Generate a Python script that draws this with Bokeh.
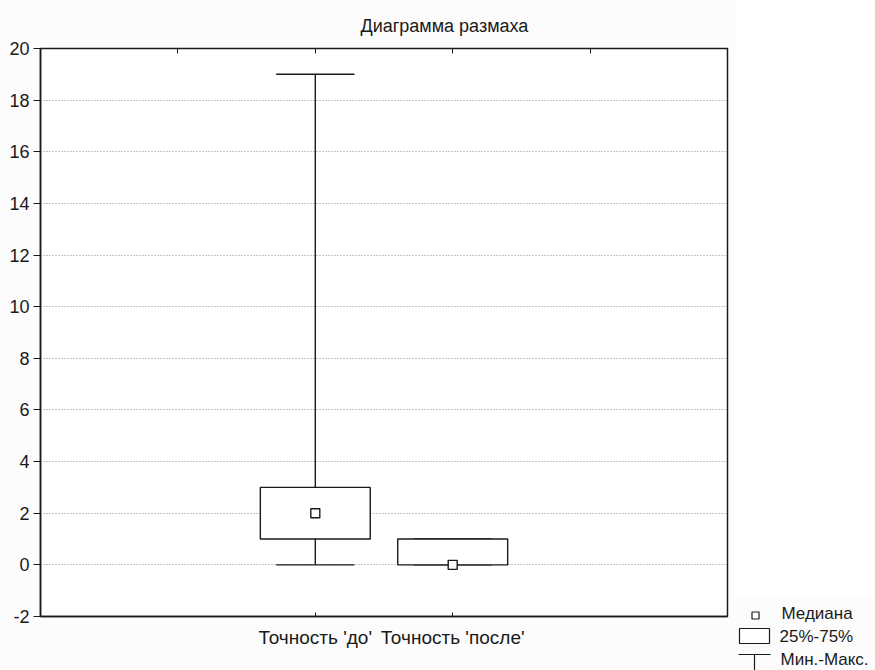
from bokeh.plotting import figure
from bokeh.models import Range1d, LinearAxis, FixedTicker, Spacer, ColumnDataSource
from bokeh.layouts import row, column
from bokeh.core.properties import value
from bokeh.embed import file_html
from bokeh.resources import INLINE

# ---- data ----
title_text = "Диаграмма размаха"
categories = ["Точность 'до'", "Точность 'после'"]
mins = [0, 0]
q1 = [1, 0]
medians = [2, 0]
q3 = [3, 1]
maxs = [19, 1]
y_ticks = [-2, 0, 2, 4, 6, 8, 10, 12, 14, 16, 18, 20]
y_tick_labels = ["-2", "0", "2", "4", "6", "8", "10", "12", "14", "16", "18", "20"]
legend_labels = ["Медиана", "25%-75%", "Мин.-Макс."]

FONT = "Liberation Sans"
BG = "#fcfcfc"
INK = "#1a1a1a"

x_pos = [i + 2 for i in range(len(categories))]
cap_half = 0.285
src = ColumnDataSource(dict(
    x=x_pos, cat=categories, lo=mins, q1=q1, med=medians, q3=q3, hi=maxs,
    cx0=[x - cap_half for x in x_pos], cx1=[x + cap_half for x in x_pos],
))

p = figure(width=735, height=670, x_range=Range1d(0, 5), y_range=Range1d(-2, 20),
           output_backend="svg", toolbar_location=None,
           min_border_left=40, min_border_right=8, min_border_top=46, min_border_bottom=54)
p.background_fill_color = "white"
p.border_fill_color = BG
p.outline_line_color = INK
p.outline_line_width = 1.5

p.title.text = title_text
p.title.text_font = FONT
p.title.text_font_size = "18px"
p.title.text_font_style = "normal"
p.title.text_color = INK
p.title.align = "left"
p.title.offset = 320
p.title.standoff = 26

# axes
xa = p.xaxis[0]
xa.ticker = FixedTicker(ticks=x_pos)
xa.major_label_overrides = {x: c for x, c in zip(x_pos, categories)}
xa.major_tick_in = 4
xa.major_tick_out = 0
xa.minor_tick_line_color = None
xa.axis_line_color = INK
xa.axis_line_width = 1.5
xa.major_tick_line_color = INK
xa.major_label_text_font = FONT
xa.major_label_text_font_size = "19px"
xa.major_label_text_color = INK
xa.major_label_standoff = 10

ya = p.yaxis[0]
ya.ticker = FixedTicker(ticks=y_ticks)
ya.major_label_overrides = {t: s for t, s in zip(y_ticks, y_tick_labels)}
ya.major_tick_in = 0
ya.major_tick_out = 7
ya.minor_tick_line_color = None
ya.axis_line_color = INK
ya.axis_line_width = 1.5
ya.major_tick_line_color = INK
ya.major_label_text_font = FONT
ya.major_label_text_font_size = "18px"
ya.major_label_text_color = INK
ya.major_label_standoff = 4

top_ticks = [1, 2, 3, 4]
top = LinearAxis(ticker=FixedTicker(ticks=top_ticks))
top.major_label_overrides = {t: "" for t in top_ticks}
top.major_tick_in = 5
top.major_tick_out = 0
top.minor_tick_line_color = None
top.major_label_standoff = 0
top.axis_line_color = INK
top.major_tick_line_color = INK
p.add_layout(top, "above")

p.xgrid.visible = False
p.ygrid.ticker = FixedTicker(ticks=y_ticks)
p.ygrid.grid_line_color = "#8a8a8a"
p.ygrid.grid_line_dash = "1 2"
p.ygrid.grid_line_width = 1

# whiskers
p.segment(x0="x", y0="q3", x1="x", y1="hi", source=src, line_color=INK, line_width=1.4)
p.segment(x0="x", y0="lo", x1="x", y1="q1", source=src, line_color=INK, line_width=1.4)
p.segment(x0="cx0", y0="hi", x1="cx1", y1="hi", source=src, line_color=INK, line_width=1.4)
p.segment(x0="cx0", y0="lo", x1="cx1", y1="lo", source=src, line_color=INK, line_width=1.4)
# boxes
p.vbar(x="x", bottom="q1", top="q3", width=0.8, source=src,
       fill_color="white", line_color=INK, line_width=1.4)
# medians
p.scatter(x="x", y="med", source=src, marker="square", size=9,
          fill_color="white", line_color=INK, line_width=1.4)

# ---- legend (separate small figure, coords in pixels, 0 at top) ----
leg = figure(width=140, height=72, x_range=Range1d(0, 140), y_range=Range1d(72, 0),
             output_backend="svg", toolbar_location=None,
             min_border=0, min_border_left=0, min_border_right=0,
             min_border_top=0, min_border_bottom=0)
leg.axis.visible = False
leg.grid.visible = False
leg.outline_line_color = None
leg.background_fill_color = BG
leg.border_fill_color = BG

leg.scatter(x=[20], y=[17], marker="square", size=7, fill_color="white",
            line_color=INK, line_width=1.2)
leg.quad(left=[4], right=[34], top=[30], bottom=[45], fill_color="white",
         line_color=INK, line_width=1.2)
leg.segment(x0=[3, 19], y0=[56, 56], x1=[35, 19], y1=[56, 72], line_color=INK, line_width=1.2)
leg.text(x=[46, 44, 45], y=[15, 38, 61], text=legend_labels,
         text_font=value(FONT), text_font_size="17px", text_color=INK,
         text_baseline="middle", text_align="left")

layout = row(p, column(Spacer(width=140, height=598), leg))

open("out.html", "w").write(file_html(layout, INLINE))
